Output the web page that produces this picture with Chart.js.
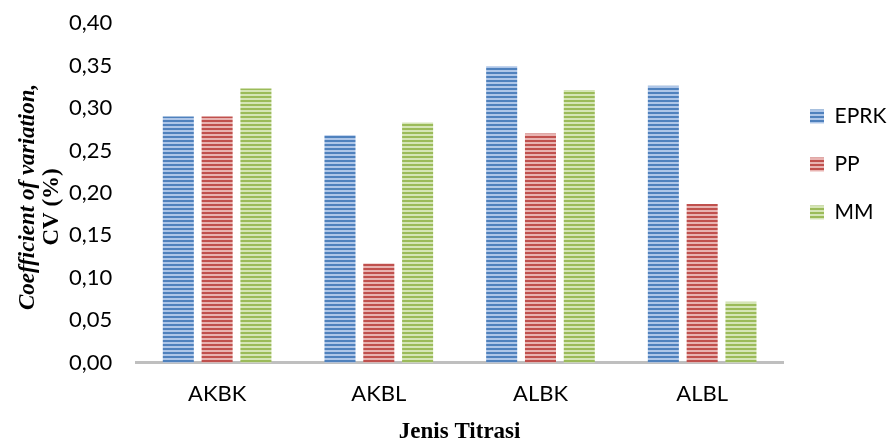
<!DOCTYPE html>
<html>
<head>
<meta charset="utf-8">
<script src="https://cdn.jsdelivr.net/npm/chart.js@4"></script>
<style>
  html, body { margin: 0; padding: 0; background: #fff; }
  #wrap { width: 888px; height: 441px; }
</style>
</head>
<body>
<div id="wrap"><canvas id="cvChart"></canvas></div>
<script>
  const categories = ['AKBK', 'AKBL', 'ALBK', 'ALBL'];
  const seriesNames = ['EPRK', 'PP', 'MM'];
  const eprkValues = [0.290, 0.268, 0.349, 0.326];
  const ppValues = [0.290, 0.117, 0.270, 0.187];
  const mmValues = [0.323, 0.283, 0.321, 0.072];
  const yTicks = [0, 0.05, 0.10, 0.15, 0.20, 0.25, 0.30, 0.35, 0.40];

  // striped fill like the office "horizontal lines" pattern
  function stripes(dark, light) {
    const c = document.createElement('canvas');
    c.width = 4;
    c.height = 4;
    const g = c.getContext('2d');
    g.fillStyle = light;
    g.fillRect(0, 0, 4, 4);
    g.fillStyle = dark;
    g.fillRect(0, 0, 4, 2);
    return g.createPattern(c, 'repeat');
  }

  const fills = [
    stripes('#4f81bd', '#aec6e8'),
    stripes('#c0504d', '#e8b3b1'),
    stripes('#9bbb59', '#d5e5b6')
  ];

  // y axis title: first line italic, second line upright
  const yTitlePlugin = {
    id: 'yTitle',
    afterDraw(chart) {
      const ctx = chart.ctx;
      const mid = (chart.chartArea.top + chart.chartArea.bottom) / 2;
      ctx.save();
      ctx.fillStyle = '#000';
      ctx.textAlign = 'center';
      ctx.textBaseline = 'middle';
      ctx.translate(28, mid + 4);
      ctx.rotate(-Math.PI / 2);
      ctx.font = 'italic bold 23px "Liberation Serif", "Times New Roman", serif';
      ctx.fillText('Coefficient of variation,', 0, 0);
      ctx.restore();
      ctx.save();
      ctx.fillStyle = '#000';
      ctx.textAlign = 'center';
      ctx.textBaseline = 'middle';
      ctx.translate(52, mid + 14);
      ctx.rotate(-Math.PI / 2);
      ctx.font = 'bold 23px "Liberation Serif", "Times New Roman", serif';
      ctx.fillText('CV (%)', 0, 0);
      ctx.restore();
    }
  };

  const ctx = document.getElementById('cvChart').getContext('2d');

  new Chart(ctx, {
    type: 'bar',
    data: {
      labels: categories,
      datasets: [
        { label: seriesNames[0], data: eprkValues, backgroundColor: fills[0] },
        { label: seriesNames[1], data: ppValues, backgroundColor: fills[1] },
        { label: seriesNames[2], data: mmValues, backgroundColor: fills[2] }
      ]
    },
    options: {
      responsive: true,
      maintainAspectRatio: false,
      animation: false,
      datasets: {
        bar: { categoryPercentage: 0.72, barPercentage: 0.8, borderWidth: 0 }
      },
      layout: { padding: { left: 45, top: 23, right: 0, bottom: 0 } },
      scales: {
        x: {
          grid: { display: false, drawTicks: false },
          border: { display: true, color: '#bfbfbf', width: 3 },
          ticks: {
            color: '#000',
            padding: 18,
            font: { family: 'Lato', size: 22 }
          },
          title: {
            display: true,
            text: 'Jenis Titrasi',
            color: '#000',
            padding: { top: 0, bottom: 2 },
            font: { family: '"Liberation Serif", "Times New Roman", serif', size: 23, weight: 'bold', lineHeight: 0.6 }
          }
        },
        y: {
          min: 0,
          max: 0.40,
          afterBuildTicks(axis) {
            axis.ticks = yTicks.map(v => ({ value: v }));
          },
          afterFit(axis) {
            // keep the top label from pushing the plot down
            axis.paddingTop = 12;
            axis.paddingBottom = 12;
          },
          grid: { display: false, drawTicks: false },
          border: { display: false },
          ticks: {
            color: '#000',
            padding: 24,
            font: { family: 'Lato', size: 22 },
            callback: v => v.toFixed(2).replace('.', ',')
          }
        }
      },
      plugins: {
        legend: {
          position: 'right',
          align: 'start',
          maxWidth: 105,
          title: {
            display: true,
            text: ' ',
            font: { size: 10 },
            padding: { top: 0, bottom: 44 }
          },
          labels: {
            color: '#000',
            boxWidth: 14,
            boxHeight: 14,
            padding: 27,
            font: { family: 'Lato', size: 21 }
          }
        },
        tooltip: { enabled: false }
      }
    },
    plugins: [yTitlePlugin]
  });
</script>
</body>
</html>
